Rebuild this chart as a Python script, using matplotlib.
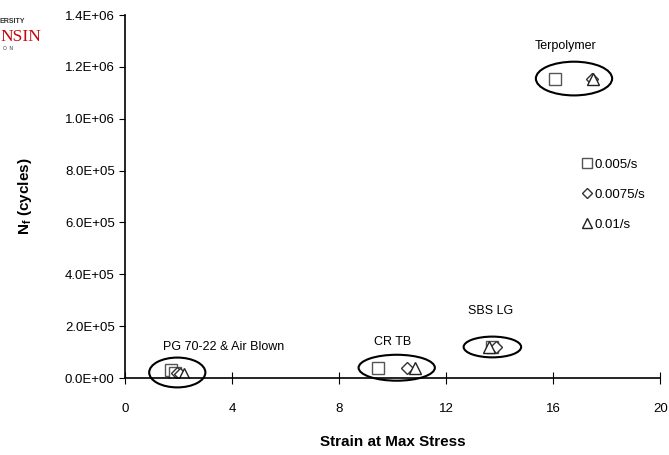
import matplotlib
matplotlib.use("Agg")
import matplotlib.pyplot as plt
from matplotlib.patches import Ellipse
from matplotlib.ticker import FuncFormatter

plt.rcParams['font.family'] = ['Liberation Sans', 'DejaVu Sans']

# data (strain at max stress, Nf cycles)
groups = ["PG 70-22 & Air Blown", "CR TB", "SBS LG", "Terpolymer"]
sq_x = [1.7, 9.45, 13.7, 16.05]
sq_y = [3.0e4, 4.0e4, 1.2e5, 1.155e6]
di_x = [1.95, 10.55, 13.85, 17.45]
di_y = [2.0e4, 4.0e4, 1.2e5, 1.155e6]
tr_x = [2.2, 10.85, 13.6, 17.5]
tr_y = [1.5e4, 4.0e4, 1.2e5, 1.155e6]
# extra overlapping points in the PG group
pg_sq_x = [1.85]
pg_sq_y = [2.0e4]
pg_di_x = [2.05]
pg_di_y = [1.5e4]

label_x = [3.7, 10.0, 13.65, 16.45]
label_y = [1.19e5, 1.39e5, 2.58e5, 1.28e6]
ell_w = [2.1, 2.85, 2.15, 2.85]
ell_h = [1.15e5, 1.0e5, 0.8e5, 1.3e5]

fig, ax = plt.subplots(figsize=(6.69, 4.55), dpi=100)
fig.subplots_adjust(left=0.187, right=0.987, bottom=0.169, top=0.967)

mk = dict(markersize=8, markerfacecolor='white', linestyle='none', markeredgewidth=1.0)
ax.plot(sq_x + pg_sq_x, sq_y + pg_sq_y, marker='s', color='#555555', label='0.005/s', **mk)
ax.plot(di_x + pg_di_x, di_y + pg_di_y, marker='D', color='#333333', label='0.0075/s',
        **{**mk, 'markersize': 6.5})
ax.plot(tr_x, tr_y, marker='^', color='#222222', label='0.01/s', **mk)

for i, name in enumerate(groups):
    xs = [sq_x[i], di_x[i], tr_x[i]]
    ys = [sq_y[i], di_y[i], tr_y[i]]
    cx = (min(xs) + max(xs)) / 2
    cy = sum(ys) / 3
    ax.add_patch(Ellipse((cx, cy), ell_w[i], ell_h[i], fill=False,
                         edgecolor='black', linewidth=1.5, clip_on=False))
    ax.text(label_x[i], label_y[i], name, ha='center', va='center', fontsize=9)

ax.set_xlim(0, 20)
ax.set_ylim(0, 1.4e6)
ax.set_xticks([0, 4, 8, 12, 16, 20])
ax.set_yticks([i * 2e5 for i in range(8)])
ax.yaxis.set_major_formatter(FuncFormatter(lambda v, p: f"{v:.1E}"))
ax.tick_params(axis='x', direction='inout', length=8, labelsize=9.5, pad=14)
ax.tick_params(axis='y', direction='out', length=4, labelsize=9.5)
for s in ['top', 'right']:
    ax.spines[s].set_visible(False)
ax.spines['left'].set_linewidth(1.2)
ax.spines['bottom'].set_linewidth(1.2)

ax.set_xlabel("Strain at Max Stress", fontsize=11, fontweight='bold', labelpad=14)
ax.set_ylabel("N$_\\mathregular{f}$ (cycles)", fontsize=11, fontweight='bold', labelpad=22)

ax.legend(loc='upper left', bbox_to_anchor=(0.841, 0.62), frameon=False,
          fontsize=9.5, handletextpad=0.1, labelspacing=1.35, handlelength=1.0,
          markerscale=0.85, borderaxespad=0)

# cropped logo fragment at top-left
fig.text(0.0, 0.95, "ERSITY", fontsize=5, fontweight='bold', color='#333333')
fig.text(0.0, 0.91, "NSIN", fontsize=12.5, color='#c5050c', fontfamily='Liberation Serif')
fig.text(0.005, 0.89, "O  N", fontsize=3.5, color='#333333')

fig.savefig("out.png", dpi=100)
